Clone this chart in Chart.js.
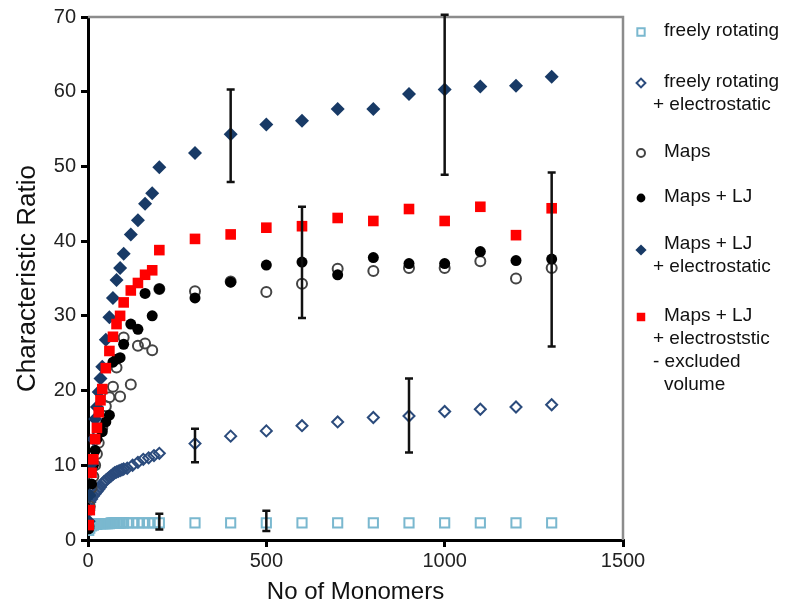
<!DOCTYPE html>
<html lang="en">
<head>
  <meta charset="UTF-8">
  <title>Characteristic Ratio vs No of Monomers</title>
  <style>
    body { margin: 0; background: #fff; }
    .wrap { width: 788px; height: 607px; }
  </style>
</head>
<body>
  <div class="wrap">
    <canvas id="chart" width="788" height="607"></canvas>
  </div>

  <script src="https://cdn.jsdelivr.net/npm/chart.js"></script>
  <script>
    // freely rotating
    const frX = [2, 5, 10, 15, 20, 25, 30, 35, 40, 45, 50, 55, 60, 65, 70, 75, 80, 85, 90, 95, 100,
                 110, 125, 140, 155, 170, 185, 200, 300, 400, 500, 600, 700, 800, 900, 1000, 1100, 1200, 1300];
    const frY = [1.3, 1.6, 1.9, 2.0, 2.1, 2.1, 2.2, 2.2, 2.2, 2.2, 2.2, 2.2, 2.2, 2.3, 2.3, 2.3, 2.3, 2.3, 2.3, 2.3, 2.3,
                 2.3, 2.3, 2.3, 2.3, 2.3, 2.3, 2.3, 2.3, 2.3, 2.3, 2.3, 2.3, 2.3, 2.3, 2.3, 2.3, 2.3, 2.3];

    // freely rotating + electrostatic
    const freX = [5, 10, 15, 20, 25, 30, 35, 40, 45, 50, 55, 60, 65, 70, 75, 80, 85, 90, 95, 100,
                  110, 125, 140, 155, 170, 185, 200, 300, 400, 500, 600, 700, 800, 900, 1000, 1100, 1200, 1300];
    const freY = [5.1, 5.5, 5.9, 6.2, 6.5, 6.8, 7.1, 7.5, 7.8, 8.0, 8.2, 8.4, 8.6, 8.8, 9.0, 9.1, 9.2, 9.3, 9.4, 9.5,
                  9.6, 10.0, 10.4, 10.8, 11.0, 11.3, 11.6, 12.9, 13.9, 14.6, 15.3, 15.8, 16.4, 16.6, 17.2, 17.5, 17.8, 18.1];

    // Maps
    const mapsX = [2, 5, 10, 15, 20, 25, 30, 40, 50, 60, 70, 80, 90, 100, 120, 140, 160, 180, 200,
                   300, 400, 500, 600, 700, 800, 900, 1000, 1100, 1200, 1300];
    const mapsY = [1.8, 4.5, 7.0, 8.5, 10.0, 11.5, 13.0, 15.0, 17.9, 19.1, 20.5, 23.1, 19.2, 27.1, 20.8, 26.0, 26.3, 25.4, 33.6,
                   33.3, 34.6, 33.2, 34.3, 36.3, 36.0, 36.4, 36.4, 37.3, 35.0, 36.4];

    // Maps + LJ
    const ljX = [2, 5, 10, 15, 20, 25, 30, 40, 50, 60, 70, 80, 90, 100, 120, 140, 160, 180, 200,
                 300, 400, 500, 600, 700, 800, 900, 1000, 1100, 1200, 1300];
    const ljY = [1.5, 4.0, 7.5, 10.0, 12.0, 13.5, 15.0, 14.5, 15.8, 16.7, 23.8, 24.2, 24.4, 26.2, 28.9, 28.2, 33.0, 30.0, 33.6,
                 32.4, 34.5, 36.8, 37.2, 35.5, 37.8, 37.0, 37.0, 38.6, 37.4, 37.6];

    // Maps + LJ + electrostatic
    const ljeX = [2, 5, 10, 15, 20, 25, 30, 35, 40, 50, 60, 70, 80, 90, 100, 120, 140, 160, 180, 200,
                  300, 400, 500, 600, 700, 800, 900, 1000, 1100, 1200, 1300];
    const ljeY = [2.5, 6.0, 10.2, 13.5, 16.2, 17.8, 19.8, 21.6, 23.2, 26.8, 29.8, 32.4, 34.8, 36.4, 38.3, 40.9, 42.8, 45.0, 46.4, 49.9,
                  51.8, 54.3, 55.6, 56.1, 57.7, 57.7, 59.7, 60.3, 60.7, 60.8, 62.0];

    // Maps + LJ + electroststic - excluded volume
    const exX = [2, 5, 10, 15, 20, 25, 30, 35, 40, 50, 60, 70, 80, 90, 100, 120, 140, 160, 180, 200,
                 300, 400, 500, 600, 700, 800, 900, 1000, 1100, 1200, 1300];
    const exY = [2.0, 4.0, 9.0, 10.8, 13.5, 15.0, 17.1, 18.7, 20.2, 23.0, 25.3, 27.2, 28.9, 30.0, 31.8, 33.4, 34.4, 35.5, 36.1, 38.8,
                 40.3, 40.9, 41.8, 42.0, 43.1, 42.7, 44.3, 42.7, 44.6, 40.8, 44.4];

    // error bars
    const errX = [200, 500, 300, 900, 600, 1300, 400, 1000];
    const errLow = [1.4, 1.2, 10.4, 11.7, 29.7, 25.9, 47.9, 48.9];
    const errHigh = [3.5, 3.9, 14.9, 21.6, 44.6, 49.2, 60.3, 70.3];

    const xTicks = [0, 500, 1000, 1500];
    const yTicks = [0, 10, 20, 30, 40, 50, 60, 70];

    const FONT = "'Liberation Sans', Arial, sans-serif";

    function pts(xs, ys) {
      return xs.map((x, i) => ({ x: x, y: ys[i] }));
    }

    const series = [
      { label: ["freely rotating"], data: pts(frX, frY), pointStyle: "rect", radius: 6.5,
        bg: "rgba(0,0,0,0)", border: "#7ab8cf", bw: 2, order: 5 },
      { label: ["freely rotating", "+ electrostatic"], data: pts(freX, freY), pointStyle: "rectRot", radius: 5.5,
        bg: "rgba(0,0,0,0)", border: "#2b4b7c", bw: 2, order: 4 },
      { label: ["Maps"], data: pts(mapsX, mapsY), pointStyle: "circle", radius: 5,
        bg: "rgba(0,0,0,0)", border: "#444444", bw: 2, order: 3 },
      { label: ["Maps + LJ"], data: pts(ljX, ljY), pointStyle: "circle", radius: 5.5,
        bg: "#000000", border: "#000000", bw: 0, order: 2 },
      { label: ["Maps + LJ", "+ electrostatic"], data: pts(ljeX, ljeY), pointStyle: "rectRot", radius: 7,
        bg: "#183a66", border: "#183a66", bw: 0, order: 1 },
      { label: ["Maps + LJ", "+ electroststic", "- excluded", "volume"], data: pts(exX, exY), pointStyle: "rect", radius: 7.5,
        bg: "#ff0000", border: "#ff0000", bw: 0, order: 0 }
    ];

    const framePlugin = {
      id: "frame",
      beforeDatasetsDraw(chart) {
        const a = chart.chartArea, ctx = chart.ctx;
        ctx.save();
        ctx.strokeStyle = "#8c8c8c";
        ctx.lineWidth = 2.5;
        ctx.beginPath();
        ctx.moveTo(a.left, a.top);
        ctx.lineTo(a.right, a.top);
        ctx.lineTo(a.right, a.bottom);
        ctx.stroke();
        ctx.restore();
      }
    };

    const errorBarPlugin = {
      id: "errorBars",
      afterDatasetsDraw(chart) {
        const ctx = chart.ctx, xs = chart.scales.x, ys = chart.scales.y;
        ctx.save();
        ctx.strokeStyle = "#111";
        ctx.lineWidth = 2.5;
        errX.forEach((xv, i) => {
          const px = xs.getPixelForValue(xv);
          const lo = ys.getPixelForValue(errLow[i]);
          const hi = ys.getPixelForValue(errHigh[i]);
          ctx.beginPath();
          ctx.moveTo(px, lo); ctx.lineTo(px, hi);
          ctx.moveTo(px - 4, lo); ctx.lineTo(px + 4, lo);
          ctx.moveTo(px - 4, hi); ctx.lineTo(px + 4, hi);
          ctx.stroke();
        });
        ctx.restore();
      }
    };

    const legendPlugin = {
      id: "sideLegend",
      afterDraw(chart) {
        const ctx = chart.ctx;
        const tops = [31, 82, 152, 197, 244, 316];
        const lineH = 23;
        series.forEach((s, i) => {
          const y0 = tops[i];
          ctx.save();
          ctx.fillStyle = s.bg;
          ctx.strokeStyle = s.border;
          ctx.lineWidth = s.bw;
          Chart.helpers.drawPoint(ctx, {
            pointStyle: s.pointStyle,
            radius: s.radius * 0.8,
            borderWidth: s.bw,
            rotation: 0
          }, 641, y0 + (i === 4 ? 6 : 1));
          ctx.restore();
          ctx.save();
          ctx.font = "19px " + FONT;
          ctx.textBaseline = "middle";
          ctx.fillStyle = "#111";
          s.label.forEach((t, k) => {
            let tx = 664;
            if (t.charAt(0) === "+" || t.charAt(0) === "-") tx = 653;
            ctx.fillText(t, tx, y0 + k * lineH);
          });
          ctx.restore();
        });
      }
    };

    const ctx = document.getElementById("chart").getContext("2d");
    new Chart(ctx, {
      type: "scatter",
      data: {
        datasets: series.map(s => ({
          label: s.label.join(" "),
          data: s.data,
          pointStyle: s.pointStyle,
          pointRadius: s.radius,
          pointHoverRadius: s.radius,
          backgroundColor: s.bg,
          borderColor: s.border,
          pointBackgroundColor: s.bg,
          pointBorderColor: s.border,
          pointBorderWidth: s.bw,
          showLine: false,
          order: s.order
        }))
      },
      options: {
        responsive: false,
        animation: false,
        events: [],
        layout: { padding: { top: 15, right: 165, left: 0, bottom: 0 } },
        plugins: {
          legend: { display: false },
          tooltip: { enabled: false }
        },
        scales: {
          x: {
            type: "linear",
            min: 0, max: 1500,
            afterBuildTicks: s => { s.ticks = xTicks.map(v => ({ value: v })); },
            afterFit: s => { s.height = 67; },
            ticks: { font: { size: 20, family: FONT }, color: "#222", padding: 2, maxRotation: 0,
                     callback: v => String(v) },
            grid: { drawOnChartArea: false, drawTicks: true, tickLength: 7, color: "#000", lineWidth: 3 },
            border: { display: true, color: "#000", width: 3 },
            title: { display: true, text: "No of Monomers", color: "#111",
                     font: { size: 24, family: FONT }, padding: { top: 0, bottom: 0 } }
          },
          y: {
            min: 0, max: 70,
            afterBuildTicks: s => { s.ticks = yTicks.map(v => ({ value: v })); },
            afterFit: s => { s.width = 88; },
            ticks: { font: { size: 20, family: FONT }, color: "#222", padding: 5,
                     callback: v => String(v) },
            grid: { drawOnChartArea: false, drawTicks: true, tickLength: 7, color: "#000", lineWidth: 3 },
            border: { display: true, color: "#000", width: 3 },
            title: { display: true, text: "Characteristic Ratio", color: "#111",
                     font: { size: 26, family: FONT }, padding: { top: 12, bottom: 0 } }
          }
        }
      },
      plugins: [framePlugin, errorBarPlugin, legendPlugin]
    });
  </script>
</body>
</html>
